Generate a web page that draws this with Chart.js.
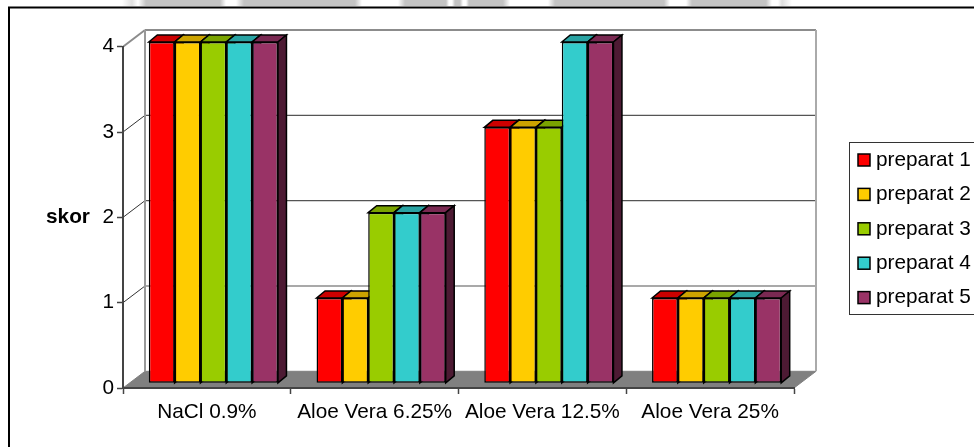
<!DOCTYPE html>
<html>
<head>
<meta charset="utf-8">
<title>skor preparat</title>
<script src="https://cdn.jsdelivr.net/npm/chart.js@4"></script>
<style>
  html, body { margin: 0; padding: 0; background: #fff; overflow: hidden; }
  #wrap { position: relative; width: 974px; height: 447px; }
  #topStrip {
    position: absolute; left: 0; top: 0; width: 974px; height: 6px;
    background: linear-gradient(90deg, #fff 0, #fff 122px, #e0e0e0 132px, #fff 138px, #c4c4c4 146px, #c4c4c4 220px, #fff 226px, #fff 236px,
      #c4c4c4 244px, #c4c4c4 355px, #fff 362px, #fff 398px, #c4c4c4 405px, #c4c4c4 446px, #fff 449px, #fff 452px,
      #c4c4c4 455px, #c4c4c4 460px, #fff 463px, #fff 466px, #c4c4c4 469px, #c4c4c4 503px, #fff 510px, #fff 548px,
      #c4c4c4 555px, #c4c4c4 664px, #fff 670px, #fff 686px, #c4c4c4 692px, #c4c4c4 766px, #fff 772px, #fff 778px, #ddd 782px, #fff 792px, #fff 100%);
  }
  #chart { position: absolute; left: 0; top: 0; }
</style>
</head>
<body>
<div id="wrap">
  <canvas id="chart" width="974" height="447"></canvas>
  <div id="topStrip"></div>
</div>
<script>
var categories = ["NaCl 0.9%", "Aloe Vera 6.25%", "Aloe Vera 12.5%", "Aloe Vera 25%"];
var seriesNames = ["preparat 1", "preparat 2", "preparat 3", "preparat 4", "preparat 5"];
var preparat1 = [4, 1, 3, 1];
var preparat2 = [4, 1, 3, 1];
var preparat3 = [4, 2, 3, 1];
var preparat4 = [4, 2, 4, 1];
var preparat5 = [4, 2, 4, 1];
var yTicks = [0, 1, 2, 3, 4];

var frontColors = ["#ff0000", "#ffcc00", "#99cc00", "#33cccc", "#993366"];
var topColors = ["#cc0000", "#cca300", "#7aa300", "#29a3a3", "#7a2952"];
var sideColors = ["#800000", "#806600", "#4d6600", "#1a6666", "#4d1a33"];

var font = "Liberation Sans, Arial, sans-serif";
var fontSize = 20.8;

// depth of the walls and of the bars, measured from the front plane
var wallDx = 22, wallDy = 16.7;
var barShiftX = 6.5, barShiftY = 4.7;
var barDx = 8.5, barDy = 7;

function line(ctx, x1, y1, x2, y2, color, width) {
  ctx.strokeStyle = color;
  ctx.lineWidth = width;
  ctx.beginPath();
  ctx.moveTo(x1, y1);
  ctx.lineTo(x2, y2);
  ctx.stroke();
}

function face(ctx, pts, fill) {
  ctx.fillStyle = fill;
  ctx.beginPath();
  ctx.moveTo(pts[0][0], pts[0][1]);
  for (var i = 1; i < pts.length; i++) ctx.lineTo(pts[i][0], pts[i][1]);
  ctx.closePath();
  ctx.fill();
  ctx.stroke();
}

// outer frame, back wall, floor and gridlines
var wallPlugin = {
  id: "wall",
  beforeDraw: function (chart) {
    var ctx = chart.ctx, a = chart.chartArea, y = chart.scales.y;
    ctx.save();
    ctx.fillStyle = "#fff";
    ctx.fillRect(0, 0, chart.width, chart.height);
    ctx.strokeStyle = "#000";
    ctx.lineWidth = 2;
    ctx.strokeRect(9, 7.5, 1100, 600);

    var left = a.left + wallDx, right = a.right + wallDx;
    var top = a.top - wallDy, floorY = a.bottom - wallDy;

    ctx.strokeStyle = "#808080";
    ctx.lineWidth = 1;
    face(ctx, [[a.left, a.bottom], [a.right, a.bottom], [right, floorY], [left, floorY]], "#808080");

    yTicks.forEach(function (v) {
      if (v === 0 || v === 4) return;
      var py = y.getPixelForValue(v);
      line(ctx, left, py - wallDy, right, py - wallDy, "#555", 1.2);
      line(ctx, a.left, py, left, py - wallDy, "#333", 1);
    });

    line(ctx, a.left, a.top, left, top, "#8c8c8c", 2);
    line(ctx, left, top, right, top, "#8c8c8c", 2);
    line(ctx, left, top, left, floorY, "#999", 2);
    line(ctx, right, top, right, floorY, "#aaa", 2);
    ctx.restore();
  },

  // the bars stand a little behind the front plane; top and side faces
  // go down first so the front of each bar covers its left neighbour's side
  beforeDatasetsDraw: function (chart) {
    var ctx = chart.ctx;
    ctx.save();
    ctx.translate(barShiftX, -barShiftY);
    ctx.strokeStyle = "#000";
    ctx.lineWidth = 1.5;
    seriesNames.forEach(function (name, i) {
      chart.getDatasetMeta(i).data.forEach(function (bar) {
        var l = bar.x - bar.width / 2, r = bar.x + bar.width / 2;
        face(ctx, [[l, bar.y], [l + barDx, bar.y - barDy], [r + barDx, bar.y - barDy], [r, bar.y]], topColors[i]);
        face(ctx, [[r, bar.y], [r + barDx, bar.y - barDy], [r + barDx, bar.base - barDy], [r, bar.base]], sideColors[i]);
      });
    });
  },

  afterDatasetsDraw: function (chart) {
    chart.ctx.restore();
  },

  // axis title and legend box
  afterDraw: function (chart) {
    var ctx = chart.ctx;
    ctx.save();
    ctx.textBaseline = "middle";
    ctx.fillStyle = "#000";
    ctx.font = "bold " + fontSize + "px " + font;
    ctx.fillText("skor", 46, chart.scales.y.getPixelForValue(2));

    ctx.strokeStyle = "#333";
    ctx.lineWidth = 1;
    ctx.strokeRect(849.5, 142.5, 200, 172);
    ctx.font = fontSize + "px " + font;
    seriesNames.forEach(function (name, i) {
      var cy = 160 + i * 34.4;
      ctx.fillStyle = frontColors[i];
      ctx.strokeStyle = "#000";
      ctx.lineWidth = 1.5;
      ctx.fillRect(858, cy - 6, 12, 12);
      ctx.strokeRect(858, cy - 6, 12, 12);
      ctx.fillStyle = "#000";
      ctx.fillText(name, 876, cy);
    });
    ctx.restore();
  }
};

var values = [preparat1, preparat2, preparat3, preparat4, preparat5];

new Chart(document.getElementById("chart"), {
  type: "bar",
  data: {
    labels: categories,
    datasets: seriesNames.map(function (name, i) {
      return {
        label: name,
        data: values[i],
        backgroundColor: frontColors[i],
        borderColor: "#000",
        borderWidth: 1.5,
        borderSkipped: false,
        barPercentage: 1,
        categoryPercentage: 0.77
      };
    })
  },
  options: {
    responsive: false,
    animation: false,
    layout: { padding: { left: 0, right: 180, top: 46.7, bottom: 0 } },
    plugins: { legend: { display: false }, tooltip: { enabled: false } },
    scales: {
      x: {
        afterFit: function (scale) { scale.height = 59; },
        border: { color: "#444", width: 2 },
        grid: { drawOnChartArea: false, color: "#444", tickLength: 6, tickWidth: 1.5 },
        ticks: { color: "#000", font: { family: font, size: fontSize }, padding: 6, maxRotation: 0, autoSkip: false }
      },
      y: {
        min: 0,
        max: 4,
        afterFit: function (scale) { scale.width = 123; },
        afterBuildTicks: function (scale) {
          scale.ticks = yTicks.map(function (v) { return { value: v }; });
        },
        border: { color: "#444", width: 2 },
        grid: { drawOnChartArea: false, color: "#444", tickLength: 6, tickWidth: 1.5 },
        ticks: { color: "#000", font: { family: font, size: fontSize }, padding: 3 }
      }
    }
  },
  plugins: [wallPlugin]
});
</script>
</body>
</html>
